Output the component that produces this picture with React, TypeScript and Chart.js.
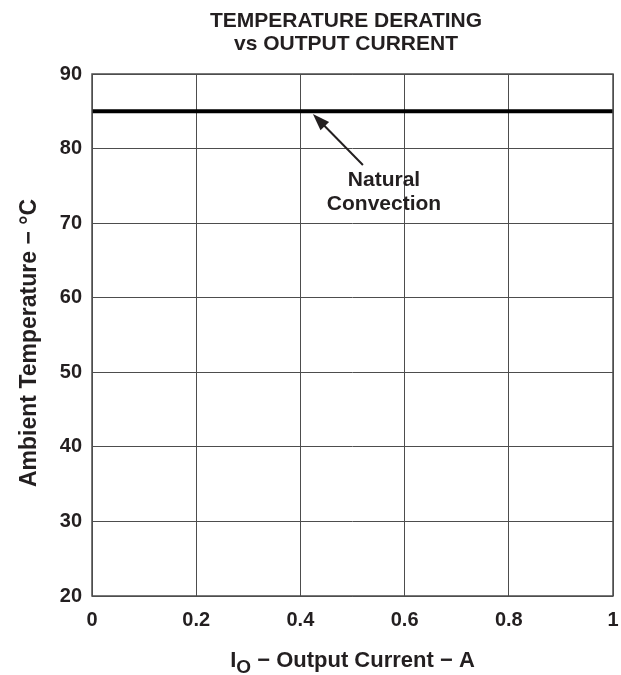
import React, { useEffect, useRef } from "react";
import { Chart, registerables } from "chart.js";

Chart.register(...registerables);

const xTicks = [0, 0.2, 0.4, 0.6, 0.8, 1];
const yTicks = [20, 30, 40, 50, 60, 70, 80, 90];
const currentA = [0, 1];
const naturalConvection = [85, 85];
const titleLines = ["TEMPERATURE DERATING", "vs OUTPUT CURRENT"];
const yTitle = "Ambient Temperature \u2212 \u00B0C";
const xTitleMain = "I";
const xTitleSub = "O";
const xTitleRest = " \u2212 Output Current \u2212 A";
const annotationLines = ["Natural", "Convection"];
const arrowTip = { x: 0.424, y: 84.64 };
const arrowTail = { x: 0.52, y: 77.8 };
const annotationPos = { x: 0.5605, y: [75.92, 72.83] };

const FONT = '"Liberation Sans", Arial, Helvetica, sans-serif';
const TEXT = "#231f20";

const overlayPlugin = {
  id: "overlay",
  afterDraw(chart: any) {
    const ctx = chart.ctx as CanvasRenderingContext2D;
    const xs = chart.scales.x;
    const ys = chart.scales.y;
    const area = chart.chartArea;
    ctx.save();
    // plot frame
    ctx.strokeStyle = "#4d4d4d";
    ctx.lineWidth = 1.5;
    ctx.strokeRect(area.left, area.top, area.right - area.left, area.bottom - area.top);

    // chart title
    ctx.fillStyle = TEXT;
    ctx.textAlign = "center";
    ctx.textBaseline = "alphabetic";
    ctx.font = `bold 21px ${FONT}`;
    ctx.fillText(titleLines[0], 346, 26.5);
    ctx.fillText(titleLines[1], 346, 50);

    // y axis title
    ctx.save();
    ctx.translate(36, 343);
    ctx.rotate(-Math.PI / 2);
    ctx.font = `bold 23px ${FONT}`;
    ctx.fillText(yTitle, 0, 0);
    ctx.restore();

    // x axis title with subscript
    const cx = (area.left + area.right) / 2;
    ctx.font = `bold 22px ${FONT}`;
    const wMain = ctx.measureText(xTitleMain).width;
    const wRest = ctx.measureText(xTitleRest).width;
    ctx.font = `bold 19px ${FONT}`;
    const wSub = ctx.measureText(xTitleSub).width;
    const total = wMain + wSub + wRest;
    let sx = cx - total / 2;
    ctx.textAlign = "left";
    ctx.font = `bold 22px ${FONT}`;
    ctx.fillText(xTitleMain, sx, 667);
    sx += wMain;
    ctx.font = `bold 19px ${FONT}`;
    ctx.fillText(xTitleSub, sx, 673);
    sx += wSub;
    ctx.font = `bold 22px ${FONT}`;
    ctx.fillText(xTitleRest, sx, 667);

    // arrow
    const tx = xs.getPixelForValue(arrowTip.x);
    const ty = ys.getPixelForValue(arrowTip.y);
    const bx = xs.getPixelForValue(arrowTail.x);
    const by = ys.getPixelForValue(arrowTail.y);
    const ang = Math.atan2(ty - by, tx - bx);
    const headLen = 17;
    const headW = 6;
    ctx.strokeStyle = TEXT;
    ctx.lineWidth = 2;
    ctx.beginPath();
    ctx.moveTo(bx, by);
    ctx.lineTo(tx - Math.cos(ang) * headLen * 0.8, ty - Math.sin(ang) * headLen * 0.8);
    ctx.stroke();
    ctx.fillStyle = TEXT;
    ctx.beginPath();
    ctx.moveTo(tx, ty);
    ctx.lineTo(
      tx - Math.cos(ang) * headLen + Math.sin(ang) * headW,
      ty - Math.sin(ang) * headLen - Math.cos(ang) * headW
    );
    ctx.lineTo(
      tx - Math.cos(ang) * headLen - Math.sin(ang) * headW,
      ty - Math.sin(ang) * headLen + Math.cos(ang) * headW
    );
    ctx.closePath();
    ctx.fill();

    // annotation text
    ctx.textAlign = "center";
    ctx.font = `bold 21px ${FONT}`;
    const ax = xs.getPixelForValue(annotationPos.x);
    annotationLines.forEach((t, i) => {
      ctx.fillText(t, ax, ys.getPixelForValue(annotationPos.y[i]) + 7.5);
    });
    ctx.restore();
  },
};

export default function App() {
  const ref = useRef<HTMLCanvasElement>(null);
  useEffect(() => {
    document.body.style.margin = "0";
    const canvas = ref.current!;
    const chart = new Chart(canvas, {
      type: "line",
      data: {
        datasets: [
          {
            label: "Natural Convection",
            data: currentA.map((x, i) => ({ x, y: naturalConvection[i] })),
            borderColor: "#000",
            borderWidth: 4,
            pointRadius: 0,
            fill: false,
          },
        ],
      },
      options: {
        animation: false,
        responsive: false,
        devicePixelRatio: 1,
        layout: { padding: { left: 0, right: 8, top: 74, bottom: 0 } },
        plugins: {
          legend: { display: false },
          tooltip: { enabled: false },
          title: { display: false },
        },
        scales: {
          x: {
            type: "linear",
            min: 0,
            max: 1,
            afterBuildTicks: (s: any) => {
              s.ticks = xTicks.map((v) => ({ value: v }));
            },
            afterFit: (s: any) => {
              s.height = 79;
              s.paddingLeft = 0;
              s.paddingRight = 0;
            },
            grid: { color: "#4d4d4d", lineWidth: 1, drawTicks: false },
            border: { display: false },
            ticks: {
              padding: 12,
              color: TEXT,
              font: { family: FONT, size: 20, weight: "bold" },
              callback: (v: any) => String(v),
              maxRotation: 0,
              autoSkip: false,
            },
          },
          y: {
            type: "linear",
            min: 20,
            max: 90,
            afterBuildTicks: (s: any) => {
              s.ticks = yTicks.map((v) => ({ value: v }));
            },
            afterFit: (s: any) => {
              s.width = 92;
              s.paddingTop = 0;
              s.paddingBottom = 0;
            },
            grid: { color: "#4d4d4d", lineWidth: 1, drawTicks: false },
            border: { display: false },
            ticks: {
              padding: 10,
              color: TEXT,
              font: { family: FONT, size: 20, weight: "bold" },
              callback: (v: any) => String(v),
              autoSkip: false,
            },
          },
        },
      } as any,
      plugins: [overlayPlugin],
    });
    return () => chart.destroy();
  }, []);
  return <canvas ref={ref} width={621} height={675} style={{ display: "block" }} />;
}
